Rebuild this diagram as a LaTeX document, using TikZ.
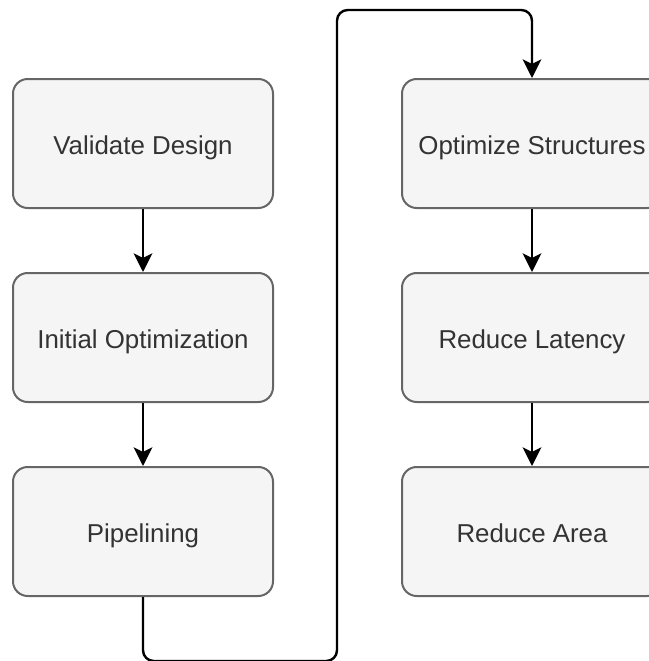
\documentclass[tikz,border=0pt]{standalone}
\usepackage{fontspec}
\setmainfont{Liberation Sans}
\usetikzlibrary{arrows.meta, positioning}
\definecolor{BOX_FILL}{HTML}{F5F5F5}
\definecolor{BOX_LINE}{HTML}{666666}
\definecolor{TXT}{HTML}{333333}
\tikzset{
  stepbox/.style={draw=BOX_LINE, fill=BOX_FILL, line width=1.5pt, rounded corners=11pt,
    minimum width=195pt, minimum height=96.75pt, text=TXT,
    text height=18pt, text depth=2.2pt,
    font=\fontsize{19.4pt}{23pt}\selectfont},
  flow/.style={draw=black, line width=1.8pt, -{Stealth[length=14pt, width=14pt, inset=3.5pt]}}
}

\begin{document}
\begin{tikzpicture}[x=0.75pt, y=-0.75pt, node distance=47.25pt and 95.25pt]
      % frame of the page
      \useasboundingbox (0,0) rectangle (649,661);
      \clip (0,0) rectangle (649,661);

      % Left column
      \node[stepbox] (validate) at (143,143.5) {Validate Design};
      \node[stepbox, below=of validate] (initopt) {Initial Optimization};
      \node[stepbox, below=of initopt] (pipe) {Pipelining};

      % Right column
      \node[stepbox, right=of validate] (structs) {Optimize Structures};
      \node[stepbox, below=of structs] (latency) {Reduce Latency};
      \node[stepbox, below=of latency] (area) {Reduce Area};

      % Arrows
      \draw[flow] (validate) -- (initopt);
      \draw[flow] (initopt) -- (pipe);
      \draw[flow] (structs) -- (latency);
      \draw[flow] (latency) -- (area);

      % Loop round to the second column
      \coordinate (turn) at (337,10);
      \draw[flow, rounded corners=8pt] (pipe.south) -- ++(0,64) -| (turn) -| (structs.north);
    \end{tikzpicture}
\end{document}
